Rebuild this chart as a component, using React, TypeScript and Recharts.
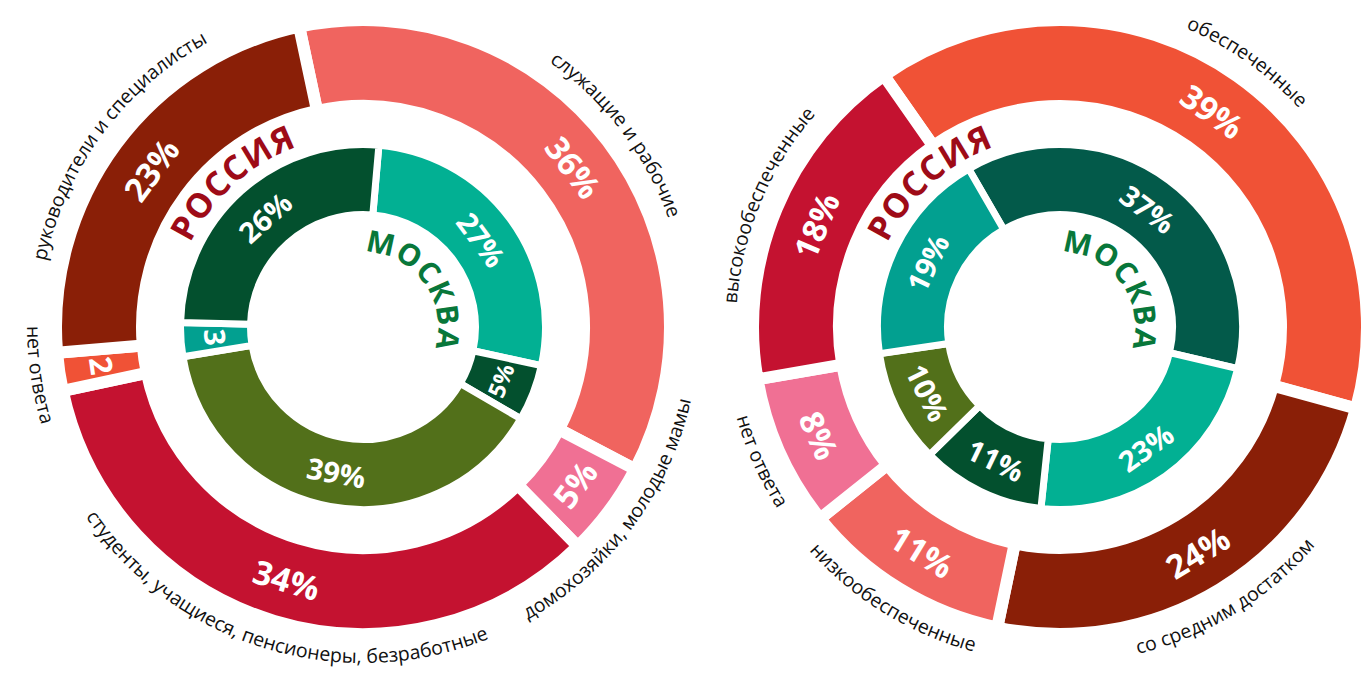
import React from 'react';
import { PieChart, Pie, Cell } from 'recharts';

const W = 1372;
const H = 673;
const FONT = '"Open Sans", "Noto Sans", "DejaVu Sans", sans-serif';

// ---- Left chart (social status): outer ring = Россия, inner ring = Москва
const leftOuterCategories = [
  'служащие и рабочие',
  'домохозяйки, молодые мамы',
  'студенты, учащиеся, пенсионеры, безработные',
  'нет ответа',
  'руководители и специалисты',
];
const leftOuterValues = [36, 5, 34, 2, 23];
const leftOuterLabels = ['36%', '5%', '34%', '2', '23%'];
const leftOuterColors = ['#F0645F', '#F07094', '#C41230', '#F05236', '#8A1F07'];

const leftInnerValues = [27, 5, 39, 3, 26];
const leftInnerLabels = ['27%', '5%', '39%', '3', '26%'];
const leftInnerColors = ['#02B093', '#03502E', '#52701A', '#02A090', '#03502E'];

// ---- Right chart (income): outer ring = Россия, inner ring = Москва
const rightOuterCategories = [
  'обеспеченные',
  'со средним достатком',
  'низкообеспеченные',
  'нет ответа',
  'высокообеспеченные',
];
const rightOuterValues = [39, 24, 11, 8, 18];
const rightOuterLabels = ['39%', '24%', '11%', '8%', '18%'];
const rightOuterColors = ['#F05236', '#8A1F07', '#F0645F', '#F07094', '#C41230'];

const rightInnerValues = [37, 23, 11, 10, 19];
const rightInnerLabels = ['37%', '23%', '11%', '10%', '19%'];
const rightInnerColors = ['#035A4A', '#02B093', '#03502E', '#52701A', '#02A090'];

const ringTitles = ['РОССИЯ', 'МОСКВА'];

// ---- geometry
const LEFT_CX = 363;
const RIGHT_CX = 1060;
const CY = 327;
const OUT_GAP = 12;
const IN_GAP = 7;
const OUT_R = 301 + OUT_GAP / 2;
const OUT_r = 227 - OUT_GAP / 2;
const IN_R = 179 + IN_GAP / 2;
const IN_r = 116 - IN_GAP / 2;

const rad = (d: number) => (d * Math.PI) / 180;
const pt = (cx: number, cy: number, r: number, th: number): [number, number] => [
  cx + r * Math.sin(rad(th)),
  cy - r * Math.cos(rad(th)),
];
const norm = (t: number) => ((t % 360) + 360) % 360;
const isBottom = (th: number) => {
  const t = norm(th);
  return t > 90 && t < 270;
};

function arcPath(cx: number, cy: number, r: number, th: number, span: number, bottom: boolean) {
  const [x1, y1] = pt(cx, cy, r, th - span);
  const [x2, y2] = pt(cx, cy, r, th + span);
  return bottom
    ? `M${x2},${y2} A${r},${r} 0 0 0 ${x1},${y1}`
    : `M${x1},${y1} A${r},${r} 0 0 1 ${x2},${y2}`;
}

const build = (values: number[], labels: string[], cats?: string[]) =>
  values.map((v, i) => ({ value: v, label: labels[i], name: cats ? cats[i] : labels[i] }));

const emWidth = (s: string) =>
  s.split('').reduce((a, c) => a + (c === '%' ? 0.86 : 0.58), 0);

const makeLabel =
  (prefix: string, labels: string[], baseSize: number, gap: number, cats?: string[]) =>
  (props: any) => {
    const { cx, cy, midAngle, index, innerRadius, outerRadius, startAngle, endAngle } = props;
    const th = 90 - midAngle;
    const mid = (innerRadius + outerRadius) / 2;
    const [x, y] = pt(cx, cy, mid, th);
    const bottom = isBottom(th);
    const rot = bottom ? th - 180 : th;
    const id = `${prefix}-${index}`;
    const catR = bottom ? 336 : 324;
    const arcLen = rad(Math.abs(endAngle - startAngle)) * mid - gap;
    const fs = Math.min(baseSize, (0.85 * arcLen) / emWidth(labels[index]));
    return (
      <g key={id}>
        <text
          x={x}
          y={y}
          transform={`rotate(${rot} ${x} ${y})`}
          textAnchor="middle"
          dominantBaseline="central"
          fill="#fff"
          fontFamily={FONT}
          fontWeight={700}
          fontSize={fs}
        >
          {labels[index]}
        </text>
        {cats ? (
          <>
            <defs>
              <path id={id} d={arcPath(cx, cy, catR, th, 85, bottom)} fill="none" />
            </defs>
            <text fill="#111" fontFamily={FONT} fontSize={19.5} textAnchor="middle">
              <textPath href={`#${id}`} startOffset="50%">
                {cats[index]}
              </textPath>
            </text>
          </>
        ) : null}
      </g>
    );
  };

const startAt = (th0: number) => ({ startAngle: 90 - th0, endAngle: 90 - th0 - 360 });

function Titles({ cx }: { cx: number }) {
  const idA = `ttl-a-${cx}`;
  const idB = `ttl-b-${cx}`;
  return (
    <g>
      <defs>
        <path id={idA} d={arcPath(cx, CY, 192, -42, 85, false)} fill="none" />
        <path id={idB} d={arcPath(cx, CY, 75, 54, 85, false)} fill="none" />
      </defs>
      <text fill="#9E0B17" fontFamily={FONT} fontWeight={700} fontSize={34} textAnchor="middle" letterSpacing={1}>
        <textPath href={`#${idA}`} startOffset="50%">
          {ringTitles[0]}
        </textPath>
      </text>
      <text fill="#08773A" fontFamily={FONT} fontWeight={700} fontSize={30} textAnchor="middle" letterSpacing={1}>
        <textPath href={`#${idB}`} startOffset="50%">
          {ringTitles[1]}
        </textPath>
      </text>
    </g>
  );
}

export default function App() {
  const lo = build(leftOuterValues, leftOuterLabels, leftOuterCategories);
  const li = build(leftInnerValues, leftInnerLabels);
  const ro = build(rightOuterValues, rightOuterLabels, rightOuterCategories);
  const ri = build(rightInnerValues, rightInnerLabels);
  return (
    <div style={{ position: 'absolute', left: 0, top: 0, width: W, height: H, background: '#fff' }}>
      <PieChart width={W} height={H} margin={{ top: 0, right: 0, bottom: 0, left: 0 }}>
        <Pie
          data={lo}
          dataKey="value"
          cx={LEFT_CX}
          cy={CY}
          innerRadius={OUT_r}
          outerRadius={OUT_R}
          {...startAt(-12)}
          isAnimationActive={false}
          labelLine={false}
          label={makeLabel('lo', leftOuterLabels, 33, OUT_GAP, leftOuterCategories)}
        >
          {lo.map((d, i) => (
            <Cell key={i} fill={leftOuterColors[i]} stroke="#fff" strokeWidth={OUT_GAP} />
          ))}
        </Pie>
        <Pie
          data={li}
          dataKey="value"
          cx={LEFT_CX}
          cy={CY}
          innerRadius={IN_r}
          outerRadius={IN_R}
          {...startAt(5)}
          isAnimationActive={false}
          labelLine={false}
          label={makeLabel('li', leftInnerLabels, 29, IN_GAP)}
        >
          {li.map((d, i) => (
            <Cell key={i} fill={leftInnerColors[i]} stroke="#fff" strokeWidth={IN_GAP} />
          ))}
        </Pie>
        <Pie
          data={ro}
          dataKey="value"
          cx={RIGHT_CX}
          cy={CY}
          innerRadius={OUT_r}
          outerRadius={OUT_R}
          {...startAt(-35)}
          isAnimationActive={false}
          labelLine={false}
          label={makeLabel('ro', rightOuterLabels, 33, OUT_GAP, rightOuterCategories)}
        >
          {ro.map((d, i) => (
            <Cell key={i} fill={rightOuterColors[i]} stroke="#fff" strokeWidth={OUT_GAP} />
          ))}
        </Pie>
        <Pie
          data={ri}
          dataKey="value"
          cx={RIGHT_CX}
          cy={CY}
          innerRadius={IN_r}
          outerRadius={IN_R}
          {...startAt(-30)}
          isAnimationActive={false}
          labelLine={false}
          label={makeLabel('ri', rightInnerLabels, 29, IN_GAP)}
        >
          {ri.map((d, i) => (
            <Cell key={i} fill={rightInnerColors[i]} stroke="#fff" strokeWidth={IN_GAP} />
          ))}
        </Pie>
      </PieChart>
      <svg
        width={W}
        height={H}
        style={{ position: 'absolute', left: 0, top: 0, pointerEvents: 'none' }}
      >
        <Titles cx={LEFT_CX} />
        <Titles cx={RIGHT_CX} />
      </svg>
    </div>
  );
}
